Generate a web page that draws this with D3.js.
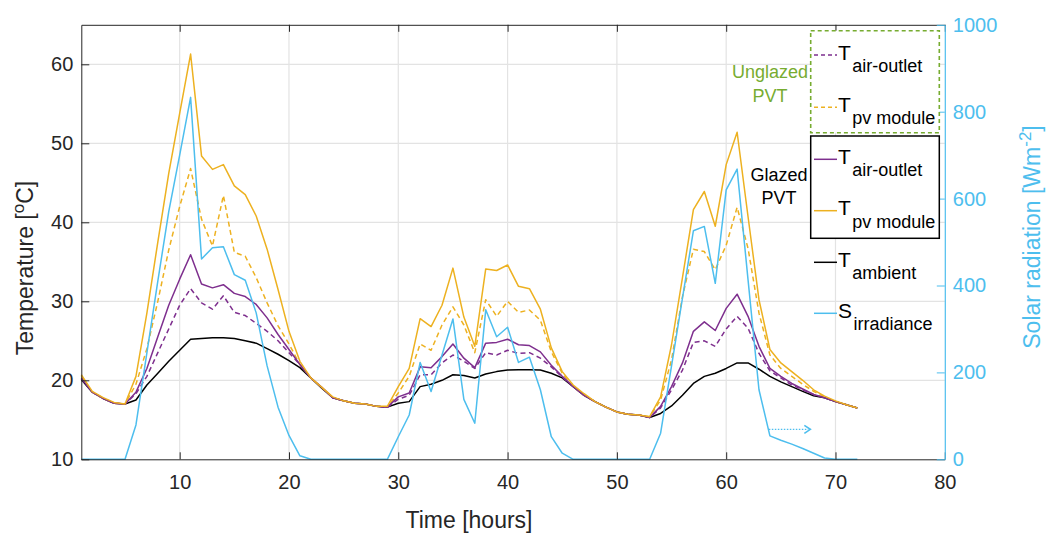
<!DOCTYPE html>
<html lang="en">
<head>
<meta charset="UTF-8">
<title>PVT temperatures and solar radiation</title>
<script src="https://d3js.org/d3.v7.min.js"></script>
<style>
  body { margin: 0; background: #fff; }
  svg { display: block; font-family: Arial, "Liberation Sans", Helvetica, sans-serif; }
</style>
</head>
<body>
<div id="chart"></div>
<script>
// hours 1..72
const hours = d3.range(1, 73);

const ambient = [20.1,18.5,17.7,17.1,17.0, 17.5,19.4,20.9,22.4,23.8, 25.2,25.3,25.4,25.4,25.3, 25.0,24.7,24.0,23.3,22.5,
  21.6,20.3,19.0,17.8,17.4, 17.1,17.0,16.7,16.6, 17.1,17.3,19.2,19.5,20.0, 20.7,20.6,20.3,20.8,21.1, 21.3,21.35,21.35,21.3,20.9,
  20.3,19.2,18.1,17.3,16.6, 16.0,15.7,15.6,15.3, 15.8,16.75,18.1,19.6,20.5, 20.9,21.5,22.2,22.2,21.4, 20.5,19.8,19.2,18.6,18.05,
  17.8,17.3,16.9,16.5];

const pvGlazed = [20.7,18.6,17.8,17.2,17.0, 20.5,28.5,37.5,46.2,53.8, 61.3,48.4,46.7,47.3,44.6, 43.5,40.8,36.6,31.5,26.2,
  22.4,20.3,19.1,17.9,17.4, 17.1,17.0,16.7,16.7, 19.2,21.5,27.8,26.8,29.5, 34.2,28.0,24.3,34.1,33.9, 34.6,31.9,31.6,29.0,24.1,
  21.1,19.4,18.3,17.3,16.6, 16.0,15.7,15.6,15.4, 17.9,24.5,33.0,41.6,43.9, 39.5,47.3,51.4,40.7,30.2, 23.9,22.2,21.1,20.0,18.8,
  18.0,17.4,16.9,16.5];

const pvUnglazed = [20.5,18.5,17.7,17.1,17.0, 19.5,24.0,30.0,36.5,42.0, 46.8,40.4,37.0,43.4,36.2, 35.7,33.0,29.8,26.9,24.6,
  22.0,20.3,19.1,17.8,17.4, 17.1,17.0,16.7,16.6, 18.4,20.5,24.6,23.8,27.0, 29.3,27.0,23.5,30.2,28.1, 30.0,28.6,28.9,27.6,23.6,
  20.9,19.2,18.1,17.3,16.6, 16.0,15.7,15.6,15.4, 17.5,22.6,30.6,36.6,36.3, 34.0,37.1,41.9,36.7,28.5, 23.2,21.5,20.5,19.5,18.6,
  17.9,17.3,16.9,16.5];

const airGlazed = [20.3,18.5,17.7,17.1,17.0, 18.5,21.5,25.5,29.5,32.8, 35.9,32.2,31.7,32.1,31.0, 30.6,29.6,27.9,25.8,23.9,
  22.0,20.3,19.1,17.8,17.4, 17.1,17.0,16.7,16.6, 17.9,18.4,21.7,21.6,23.0, 24.6,22.8,21.6,24.7,24.8, 25.2,24.5,24.4,23.6,21.9,
  20.5,19.2,18.1,17.3,16.6, 16.0,15.7,15.6,15.3, 16.7,19.2,22.2,26.2,27.4, 26.3,29.1,30.9,28.1,24.3, 21.5,20.5,19.6,18.9,18.2,
  17.8,17.3,16.9,16.5];

const airUnglazed = [20.2,18.5,17.7,17.1,17.0, 18.3,20.5,23.5,26.5,29.5, 31.6,29.8,29.0,30.7,28.6, 28.2,27.2,26.2,25.0,23.5,
  22.0,20.3,19.1,17.8,17.4, 17.1,17.0,16.7,16.6, 17.6,18.1,20.7,20.7,22.2, 23.2,22.4,21.5,23.5,23.2, 23.8,23.4,23.5,22.8,21.7,
  20.4,19.2,18.1,17.3,16.6, 16.0,15.7,15.6,15.3, 16.5,18.8,21.3,24.8,25.0, 24.3,26.5,28.1,26.6,23.4, 21.2,20.3,19.4,18.8,18.2,
  17.8,17.3,16.9,16.5];

const irradiance = [0,0,0,0,0, 79,245,410,570,700, 833,461,487,489,425, 412,337,215,120,55,
  8,0,0,0,0, 0,0,0,0, 52,102,223,156,240, 323,138,83,344,282, 304,223,235,160,52,
  14,0,0,0,0, 0,0,0,0, 60,215,371,526,536, 405,620,668,413,160, 54,44,35,25,14,
  3,0,0,0];

const xTicks = [10, 20, 30, 40, 50, 60, 70, 80];
const tTicks = [10, 20, 30, 40, 50, 60];
const sTicks = [0, 200, 400, 600, 800, 1000];

const W = 1047, H = 534;
const axisColor = "#262626";
const gridColor = "#e3e3e3";
const C = { purple: "#7E2F8E", orange: "#EDB120", blue: "#4DBEEE", green: "#77AC30", black: "#000000" };

const svg = d3.select("#chart").append("svg")
  .attr("width", W).attr("height", H);
svg.append("rect").attr("width", W).attr("height", H).attr("fill", "#fff");

const x = d3.scaleLinear().domain([1, 80]).range([81.3, 944.8]);
const yT = d3.scaleLinear().domain([10, 65]).range([459.3, 24.8]);
const yS = d3.scaleLinear().domain([0, 1000]).range([459.3, 24.8]);
const pLeft = x.range()[0], pRight = x.range()[1], pTop = yT.range()[1], pBottom = yT.range()[0];

// grid
const grid = svg.append("g").attr("stroke", gridColor).attr("stroke-width", 1.2);
grid.selectAll(".gx").data(xTicks.filter(d => d < 80)).join("line")
  .attr("x1", d => x(d)).attr("x2", d => x(d)).attr("y1", pTop).attr("y2", pBottom);
grid.selectAll(".gy").data(tTicks.filter(d => d > 10)).join("line")
  .attr("x1", pLeft).attr("x2", pRight).attr("y1", d => yT(d)).attr("y2", d => yT(d));

// series
const lineT = vals => d3.line().x((d, i) => x(hours[i])).y(d => yT(d))(vals);
const series = [
  { vals: ambient, color: C.black, dash: null },
  { vals: airUnglazed, color: C.purple, dash: "5,3.5" },
  { vals: pvUnglazed, color: C.orange, dash: "5,3.5" },
  { vals: airGlazed, color: C.purple, dash: null },
  { vals: pvGlazed, color: C.orange, dash: null }
];
svg.append("g").selectAll("path").data(series).join("path")
  .attr("d", d => lineT(d.vals))
  .attr("fill", "none")
  .attr("stroke", d => d.color)
  .attr("stroke-width", 1.5)
  .attr("stroke-dasharray", d => d.dash)
  .attr("stroke-linejoin", "round");

svg.append("path")
  .attr("d", d3.line().x((d, i) => x(hours[i])).y(d => yS(d))(irradiance))
  .attr("fill", "none").attr("stroke", C.blue).attr("stroke-width", 1.5)
  .attr("stroke-linejoin", "round");

// dotted arrow pointing to the right axis
const ax0 = x(63.9), ax1 = x(67.7), ay = yS(69);
svg.append("line").attr("x1", ax0).attr("x2", ax1 - 2).attr("y1", ay).attr("y2", ay)
  .attr("stroke", C.blue).attr("stroke-width", 1.3).attr("stroke-dasharray", "1.5,1.5");
svg.append("path")
  .attr("d", `M${ax1 - 6},${ay - 4} L${ax1},${ay} L${ax1 - 6},${ay + 4}`)
  .attr("fill", "none").attr("stroke", C.blue).attr("stroke-width", 1.6);

// axes
const fontTick = 20;
const bottomAxis = svg.append("g").attr("transform", `translate(0,${pBottom})`)
  .call(d3.axisBottom(x).tickValues(xTicks).tickSize(-7).tickSizeOuter(0).tickPadding(15.5));
const topAxis = svg.append("g").attr("transform", `translate(0,${pTop})`)
  .call(d3.axisTop(x).tickValues(xTicks).tickSize(-7).tickSizeOuter(0).tickFormat(""));
const leftAxis = svg.append("g").attr("transform", `translate(${pLeft},0)`)
  .call(d3.axisLeft(yT).tickValues(tTicks).tickSize(-8).tickSizeOuter(0).tickPadding(8));
const rightAxis = svg.append("g").attr("transform", `translate(${pRight},0)`)
  .call(d3.axisRight(yS).tickValues(sTicks).tickFormat(d3.format("d"))
    .tickSize(-8).tickSizeOuter(0).tickPadding(8));

[bottomAxis, topAxis, leftAxis].forEach(g => {
  g.select(".domain").attr("stroke", axisColor).attr("stroke-width", 1);
  g.selectAll(".tick line").attr("stroke", axisColor).attr("stroke-width", 1);
  g.selectAll(".tick text").attr("fill", axisColor).attr("font-size", fontTick).attr("font-family", null);
});
rightAxis.select(".domain").attr("stroke", C.blue).attr("stroke-width", 1.2);
rightAxis.selectAll(".tick line").attr("stroke", C.blue).attr("stroke-width", 1);
rightAxis.selectAll(".tick text").attr("fill", C.blue).attr("font-size", fontTick).attr("font-family", null);

// axis titles
svg.append("text").attr("x", 469).attr("y", 528).attr("text-anchor", "middle")
  .attr("font-size", 23).attr("fill", axisColor).text("Time [hours]");

const tl = svg.append("text").attr("transform", "translate(33,268) rotate(-90)")
  .attr("text-anchor", "middle").attr("font-size", 23).attr("fill", axisColor);
tl.append("tspan").text("Temperature [");
tl.append("tspan").attr("font-size", 17).attr("dy", -9).text("o");
tl.append("tspan").attr("dy", 9).text("C]");

const tr = svg.append("text").attr("transform", "translate(1040,237) rotate(-90)")
  .attr("text-anchor", "middle").attr("font-size", 23).attr("fill", C.blue);
tr.append("tspan").text("Solar radiation [Wm");
tr.append("tspan").attr("font-size", 17).attr("dy", -9).text("-2");
tr.append("tspan").attr("dy", 9).text("]");

// legend
const lx = 810.7, lw = 128.6;
svg.append("rect").attr("x", lx).attr("y", 30.7).attr("width", lw).attr("height", 102)
  .attr("fill", "#fff").attr("stroke", C.green).attr("stroke-width", 1.6).attr("stroke-dasharray", "4,3");
svg.append("rect").attr("x", lx).attr("y", 136).attr("width", lw).attr("height", 102.3)
  .attr("fill", "#fff").attr("stroke", C.black).attr("stroke-width", 1.5);

const legendItems = [
  { main: "T", sub: "air-outlet", color: C.purple, dash: "4,3" },
  { main: "T", sub: "pv module", color: C.orange, dash: "4,3" },
  { main: "T", sub: "air-outlet", color: C.purple, dash: null },
  { main: "T", sub: "pv module", color: C.orange, dash: null },
  { main: "T", sub: "ambient", color: C.black, dash: null },
  { main: "S", sub: "irradiance", color: C.blue, dash: null }
];
const legendY = [55, 107.3, 159.3, 210.7, 262.3, 313.3];
const lg = svg.append("g").selectAll("g").data(legendItems).join("g")
  .attr("transform", (d, i) => `translate(0,${legendY[i]})`);
lg.append("line").attr("x1", 814).attr("x2", 837).attr("y1", 0).attr("y2", 0)
  .attr("stroke", d => d.color).attr("stroke-width", 1.5).attr("stroke-dasharray", d => d.dash);
const lt = lg.append("text").attr("x", 838).attr("y", 4.5).attr("fill", "#000");
lt.append("tspan").attr("font-size", 21).text(d => d.main);
lt.append("tspan").attr("font-size", 18).attr("dx", 1.5).attr("dy", 12.5).text(d => d.sub);

// group annotations
svg.append("text").attr("x", 770).attr("y", 78.3).attr("text-anchor", "middle")
  .attr("font-size", 18).attr("fill", C.green).text("Unglazed");
svg.append("text").attr("x", 770).attr("y", 101.7).attr("text-anchor", "middle")
  .attr("font-size", 18).attr("fill", C.green).text("PVT");
svg.append("text").attr("x", 779).attr("y", 180.7).attr("text-anchor", "middle")
  .attr("font-size", 18).attr("fill", "#000").text("Glazed");
svg.append("text").attr("x", 779).attr("y", 204.3).attr("text-anchor", "middle")
  .attr("font-size", 18).attr("fill", "#000").text("PVT");
</script>
</body>
</html>
